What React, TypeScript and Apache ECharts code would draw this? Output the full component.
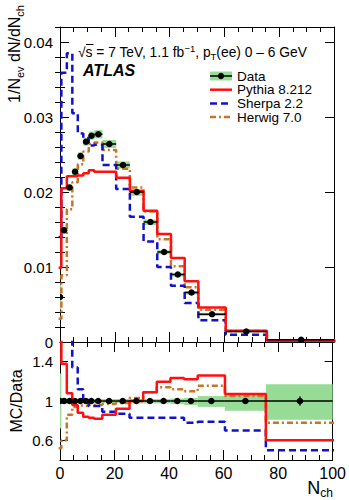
import React, { useEffect, useRef } from 'react';
import * as echarts from 'echarts';

// ---- Data ----
const binEdges = [-0.5, 0.5, 2.5, 4.5, 6.5, 8.5, 10.5, 12.5, 15.5, 20.5, 25.5, 30.5, 35.5, 40.5, 45.5, 50.5, 60.5, 75.5, 100.5];
const dataValues = [0.0060, 0.0149, 0.0206, 0.0227, 0.0248, 0.0267, 0.0275, 0.0277, 0.0264, 0.0236, 0.0200, 0.0160, 0.0120, 0.0090, 0.0066, 0.0037, 0.0014, 0.0003];
const dataBandLow = [0.72, 0.97, 0.98, 0.98, 0.98, 0.98, 0.98, 0.98, 0.98, 0.98, 0.975, 0.975, 0.975, 0.97, 0.96, 0.94, 0.90, 0.81];
const dataBandHigh = [1.28, 1.03, 1.02, 1.02, 1.02, 1.02, 1.02, 1.02, 1.02, 1.02, 1.02, 1.02, 1.02, 1.025, 1.03, 1.05, 1.08, 1.17];
const dataStatErr = [0.03, 0.006, 0.005, 0.005, 0.005, 0.005, 0.005, 0.005, 0.005, 0.005, 0.006, 0.007, 0.008, 0.01, 0.012, 0.015, 0.02, 0.045];

const pythiaValues = [0.0099, 0.0205, 0.0221, 0.0221, 0.0222, 0.0225, 0.0229, 0.0227, 0.0227, 0.0219, 0.0201, 0.0175, 0.0144, 0.0112, 0.0081, 0.0046, 0.0015, 0.00018];
const sherpaValues = [0.0140, 0.0359, 0.0385, 0.0305, 0.0278, 0.0272, 0.0262, 0.0263, 0.0236, 0.0204, 0.0167, 0.0134, 0.0100, 0.0075, 0.0052, 0.0029, 0.00098, 0.00015];
const herwigValues = [0.0031, 0.0089, 0.0177, 0.0213, 0.0237, 0.0254, 0.0264, 0.0266, 0.0256, 0.0231, 0.0206, 0.0174, 0.0137, 0.0101, 0.0073, 0.0043, 0.00147, 0.00023];

const pythiaRatio = [1.65, 1.38, 1.08, 0.96, 0.88, 0.84, 0.83, 0.82, 0.86, 0.92, 1.0, 1.09, 1.195, 1.235, 1.22, 1.26, 1.07, 0.6];
const sherpaRatio = [2.3, 2.4, 1.87, 1.34, 1.12, 1.01, 0.95, 0.95, 0.89, 0.87, 0.83, 0.83, 0.83, 0.83, 0.78, 0.79, 0.70, 0.50];
const herwigRatio = [0.52, 0.6, 0.86, 0.94, 0.955, 0.95, 0.96, 0.96, 0.97, 0.98, 1.03, 1.09, 1.14, 1.12, 1.10, 1.155, 1.05, 0.78];

const mainYTicks = [0, 0.01, 0.02, 0.03, 0.04];
const mainYMinorTicks = [0.002, 0.004, 0.006, 0.008, 0.012, 0.014, 0.016, 0.018, 0.022, 0.024, 0.026, 0.028, 0.032, 0.034, 0.036, 0.038, 0.042];
const ratioYTicks = [0.6, 1, 1.4];

const legendLabels = ['Data', 'Pythia 8.212', 'Sherpa 2.2', 'Herwig 7.0'];

// ---- Styles ----
const FONT = "'Liberation Sans', Arial, Helvetica, sans-serif";
const RED = '#ff1010';
const BLUE = '#1212c8';
const BROWN = '#c8742a';
const GREEN = '#96dc96';
const SHERPA_DASH = [7, 4];
const HERWIG_DASH = [6, 3, 2, 3];

function histLine(vals: number[]) {
  const pts: number[][] = vals.map((v, i) => [binEdges[i], v]);
  pts.push([binEdges[vals.length], vals[vals.length - 1]]);
  return pts;
}

function bandItems(scale: number[] | null) {
  return dataValues.map((v, i) => {
    const s = scale ? scale[i] : 1;
    return [binEdges[i], binEdges[i + 1], dataBandLow[i] * s, dataBandHigh[i] * s];
  });
}

function pointItems(scale: number[] | null) {
  return dataValues.map((v, i) => {
    const s = scale ? scale[i] : 1;
    const c = (binEdges[i] + binEdges[i + 1]) / 2;
    return [binEdges[i], binEdges[i + 1], c, s, s * (1 - dataStatErr[i]), s * (1 + dataStatErr[i])];
  });
}

function clampX(x: number, cs: any) {
  return Math.min(Math.max(x, cs.x), cs.x + cs.width);
}

const renderBand = (params: any, api: any) => {
  const cs = params.coordSys;
  const p1 = api.coord([api.value(0), api.value(3)]);
  const p2 = api.coord([api.value(1), api.value(2)]);
  const x1 = clampX(p1[0], cs);
  const x2 = clampX(p2[0], cs);
  const y1 = Math.max(p1[1], cs.y);
  const y2 = Math.min(p2[1], cs.y + cs.height);
  return {
    type: 'rect',
    shape: { x: x1, y: y1, width: x2 - x1, height: y2 - y1 },
    style: { fill: GREEN },
  };
};

const renderPoint = (params: any, api: any) => {
  const cs = params.coordSys;
  const pl = api.coord([api.value(0), api.value(3)]);
  const pr = api.coord([api.value(1), api.value(3)]);
  const pc = api.coord([api.value(2), api.value(3)]);
  const pLo = api.coord([api.value(2), api.value(4)]);
  const pHi = api.coord([api.value(2), api.value(5)]);
  const cx = clampX(pc[0], cs);
  return {
    type: 'group',
    children: [
      { type: 'line', shape: { x1: clampX(pl[0], cs), y1: pl[1], x2: clampX(pr[0], cs), y2: pr[1] }, style: { stroke: '#000', lineWidth: 1.5 } },
      { type: 'line', shape: { x1: cx, y1: pLo[1], x2: cx, y2: pHi[1] }, style: { stroke: '#000', lineWidth: 1.5 } },
      { type: 'circle', shape: { cx: cx, cy: pc[1], r: 3.3 }, style: { fill: '#000' } },
    ],
  };
};

function App() {
  const ref = useRef<HTMLDivElement>(null);
  useEffect(() => {
    if (!ref.current) return;
    const chart = echarts.init(ref.current, null, { renderer: 'svg' });

    const mainGrid = { left: 60, right: 15, top: 27, height: 315 };
    const ratioGrid = { left: 60, right: 15, top: 342, height: 118 };

    const axisLine = { show: true, onZero: false, lineStyle: { color: '#000', width: 1 } };
    const xCommon = (gridIndex: number, position: string, labels: boolean) => ({
      type: 'value', gridIndex, position, min: 0, max: 100, interval: 20,
      axisLine, splitLine: { show: false },
      axisTick: { show: true, inside: true, length: 10, lineStyle: { color: '#000' } },
      minorTick: { show: true, splitNumber: 4, length: 5, lineStyle: { color: '#000' } },
      axisLabel: labels
        ? { show: true, fontSize: 16, color: '#000', fontFamily: FONT, margin: 5 }
        : { show: false },
    });

    const yMain = (position: string, labels: boolean) => ({
      type: 'value', gridIndex: 0, position, min: 0, max: 0.042,
      axisLine, splitLine: { show: false },
      axisTick: { show: true, inside: true, length: 9, customValues: mainYTicks, lineStyle: { color: '#000' } },
      axisLabel: labels
        ? { show: true, customValues: mainYTicks, fontSize: 15, color: '#000', fontFamily: FONT, margin: 7,
            formatter: (v: number) => (v === 0 ? '0' : v.toFixed(2)) }
        : { show: false },
    });
    const yMainMinor = (position: string) => ({
      type: 'value', gridIndex: 0, position, min: 0, max: 0.042,
      axisLine: { show: false }, splitLine: { show: false },
      axisTick: { show: true, inside: true, length: 5, customValues: mainYMinorTicks, lineStyle: { color: '#000' } },
      axisLabel: { show: false },
    });
    const yRatio = (position: string, labels: boolean) => ({
      type: 'value', gridIndex: 1, position, min: 0.4, max: 1.6,
      axisLine, splitLine: { show: false },
      axisTick: { show: true, inside: true, length: 8, customValues: ratioYTicks, lineStyle: { color: '#000' } },
      axisLabel: labels
        ? { show: true, customValues: ratioYTicks, fontSize: 15, color: '#000', fontFamily: FONT, margin: 7,
            formatter: (v: number) => String(Math.round(v * 10) / 10) }
        : { show: false },
    });

    const lineSeries = (name: string, x: number, y: number, vals: number[], color: string, dash: any, z: number) => ({
      name, type: 'line', xAxisIndex: x, yAxisIndex: y, data: histLine(vals), step: 'end',
      showSymbol: false, symbol: 'none', clip: true, z,
      lineStyle: { color, width: 2.5, type: dash || 'solid' },
    });

    const legendRows = [76, 89.7, 103.4, 117.1];
    const lx1 = 210, lx2 = 232, ltx = 237;
    const legendGraphics: any[] = [
      { type: 'rect', shape: { x: lx1, y: legendRows[0] - 4.5, width: lx2 - lx1, height: 9 }, style: { fill: GREEN } },
      { type: 'line', shape: { x1: lx1, y1: legendRows[0], x2: lx2, y2: legendRows[0] }, style: { stroke: '#000', lineWidth: 1.5 } },
      { type: 'circle', shape: { cx: (lx1 + lx2) / 2, cy: legendRows[0], r: 3.2 }, style: { fill: '#000' } },
      { type: 'line', shape: { x1: lx1, y1: legendRows[1], x2: lx2, y2: legendRows[1] }, style: { stroke: RED, lineWidth: 2.5 } },
      { type: 'line', shape: { x1: lx1, y1: legendRows[2], x2: lx2, y2: legendRows[2] }, style: { stroke: BLUE, lineWidth: 2.5, lineDash: SHERPA_DASH } },
      { type: 'line', shape: { x1: lx1, y1: legendRows[3], x2: lx2, y2: legendRows[3] }, style: { stroke: BROWN, lineWidth: 2.5, lineDash: HERWIG_DASH } },
    ];
    legendLabels.forEach((t, i) => {
      legendGraphics.push({
        type: 'text', x: ltx, y: legendRows[i],
        style: { text: t, fill: '#000', fontSize: 13.5, lineHeight: 13, fontFamily: FONT, align: 'left', verticalAlign: 'middle' },
      });
    });

    const option: any = {
      animation: false,
      backgroundColor: '#fff',
      grid: [mainGrid, ratioGrid],
      xAxis: [
        xCommon(0, 'bottom', false),
        xCommon(0, 'top', false),
        xCommon(1, 'bottom', true),
        xCommon(1, 'top', false),
      ],
      yAxis: [
        yMain('left', true),
        yMainMinor('left'),
        yMain('right', false),
        yMainMinor('right'),
        yRatio('left', true),
        yRatio('right', false),
      ],
      series: [
        // main panel
        { type: 'custom', xAxisIndex: 0, yAxisIndex: 0, data: bandItems(dataValues), renderItem: renderBand, z: 1, silent: true, clip: true },
        lineSeries('Herwig 7.0', 0, 0, herwigValues, BROWN, HERWIG_DASH, 2),
        lineSeries('Sherpa 2.2', 0, 0, sherpaValues, BLUE, SHERPA_DASH, 3),
        lineSeries('Pythia 8.212', 0, 0, pythiaValues, RED, null, 4),
        { type: 'custom', xAxisIndex: 0, yAxisIndex: 0, data: pointItems(dataValues), renderItem: renderPoint, z: 5, silent: true, clip: true },
        // ratio panel
        { type: 'custom', xAxisIndex: 2, yAxisIndex: 4, data: bandItems(null), renderItem: renderBand, z: 1, silent: true, clip: true },
        lineSeries('Herwig 7.0 r', 2, 4, herwigRatio, BROWN, HERWIG_DASH, 2),
        lineSeries('Sherpa 2.2 r', 2, 4, sherpaRatio, BLUE, SHERPA_DASH, 3),
        lineSeries('Pythia 8.212 r', 2, 4, pythiaRatio, RED, null, 4),
        { type: 'custom', xAxisIndex: 2, yAxisIndex: 4, data: pointItems(null), renderItem: renderPoint, z: 5, silent: true, clip: true },
      ],
      graphic: [
        // y title main
        {
          type: 'text', x: 14, y: 5, rotation: Math.PI / 2,
          style: {
            text: '{n|1/N}{s|ev}{n| dN/dN}{s|ch}', align: 'right', verticalAlign: 'middle', fill: '#000',
            rich: {
              n: { fontSize: 16, fontFamily: FONT, lineHeight: 22, verticalAlign: 'middle', fill: '#000' },
              s: { fontSize: 11, fontFamily: FONT, lineHeight: 11, verticalAlign: 'bottom', fill: '#000' },
            },
          },
        },
        // y title ratio
        {
          type: 'text', x: 16, y: 401, rotation: Math.PI / 2,
          style: { text: 'MC/Data', align: 'center', verticalAlign: 'middle', fill: '#000', fontSize: 16, fontFamily: FONT },
        },
        // x title
        {
          type: 'text', x: 333, y: 488,
          style: {
            text: '{n|N}{s|ch}', align: 'right', verticalAlign: 'middle', fill: '#000',
            rich: {
              n: { fontSize: 18, fontFamily: FONT, lineHeight: 22, verticalAlign: 'middle', fill: '#000' },
              s: { fontSize: 12, fontFamily: FONT, lineHeight: 12, verticalAlign: 'bottom', fill: '#000' },
            },
          },
        },
        // energy / lumi text
        {
          type: 'text', x: 78, y: 52,
          style: {
            text: '{n|√s = 7 TeV, 1.1 fb}{p|−1}{n|, p}{s|T}{n|(ee) 0 – 6 GeV}', align: 'left', verticalAlign: 'middle', fill: '#000',
            rich: {
              n: { fontSize: 13.8, fontFamily: FONT, lineHeight: 18, verticalAlign: 'middle', fill: '#000' },
              p: { fontSize: 9.5, fontFamily: FONT, lineHeight: 10, verticalAlign: 'top', fill: '#000' },
              s: { fontSize: 9.5, fontFamily: FONT, lineHeight: 10, verticalAlign: 'bottom', fill: '#000' },
            },
          },
        },
        // overline of sqrt(s)
        { type: 'line', shape: { x1: 86, y1: 44.5, x2: 93.5, y2: 44.5 }, style: { stroke: '#000', lineWidth: 1 } },
        // ATLAS
        {
          type: 'text', x: 83, y: 70,
          style: { text: 'ATLAS', align: 'left', verticalAlign: 'middle', fill: '#000', fontSize: 16, fontWeight: 'bold', fontStyle: 'italic', fontFamily: FONT },
        },
        ...legendGraphics,
      ],
    };

    chart.setOption(option);
    return () => chart.dispose();
  }, []);

  return <div ref={ref} style={{ width: 349, height: 500, position: 'absolute', left: 0, top: 0 }} />;
}

export default App;
